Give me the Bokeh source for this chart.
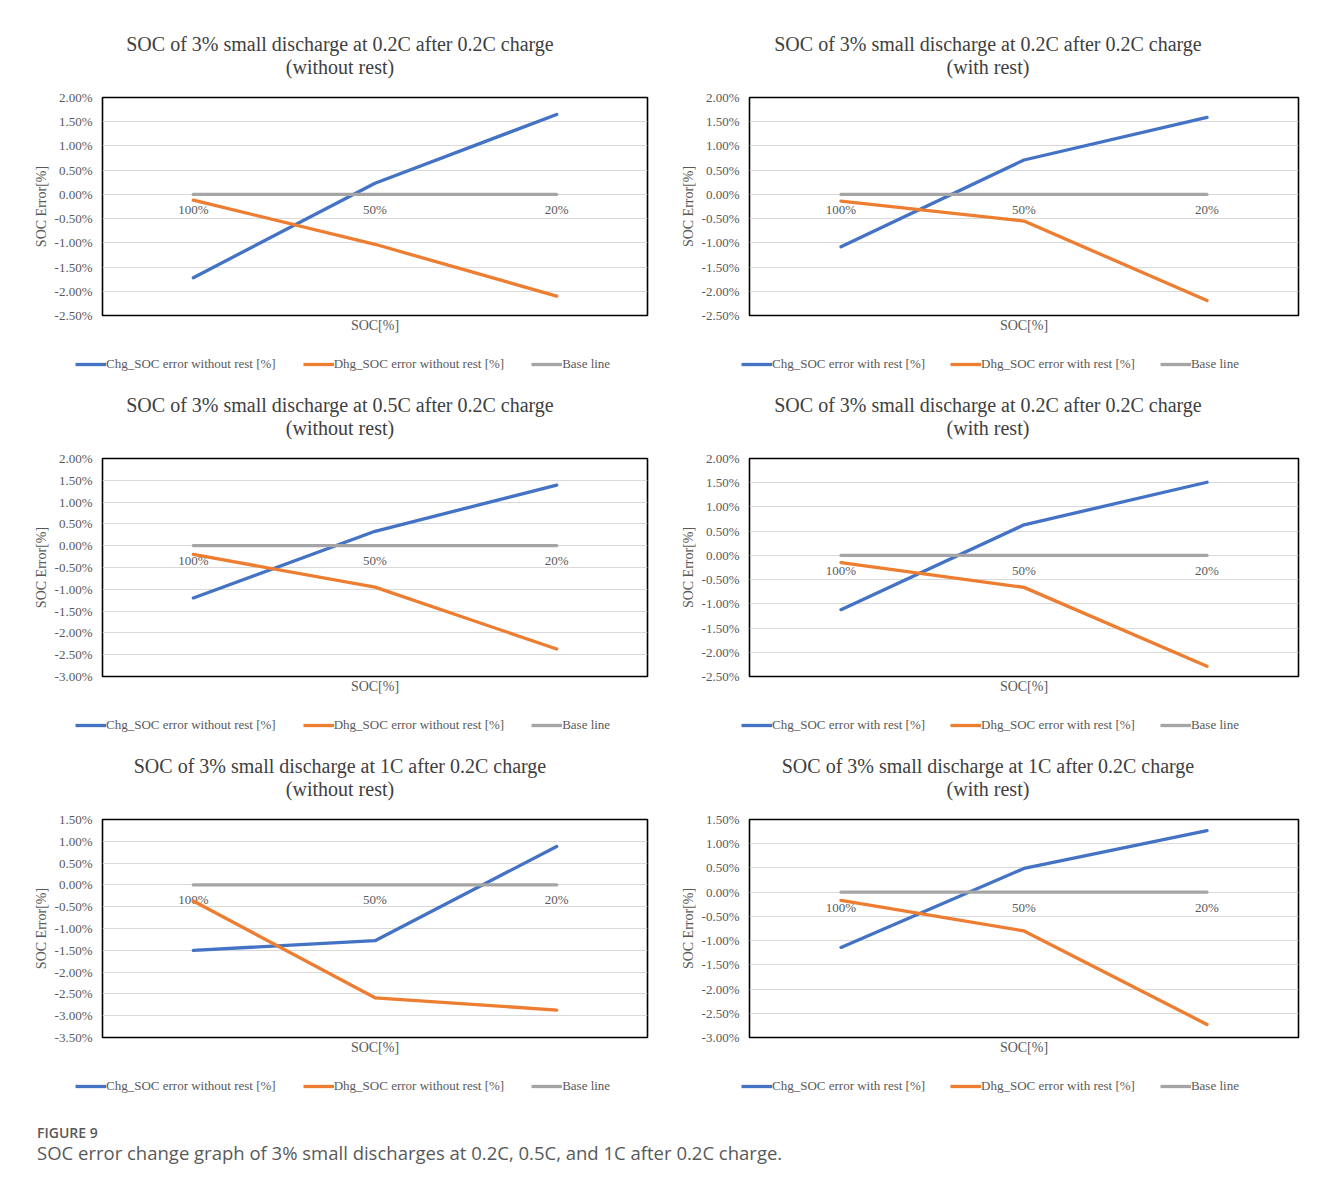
from bokeh.plotting import figure
from bokeh.models import (FactorRange, Range1d, FixedTicker, PrintfTickFormatter,
                          Legend, LegendItem, Title, Div)
from bokeh.layouts import column, row
from bokeh.embed import file_html
from bokeh.resources import INLINE
from bokeh.core.properties import value

# ---------------- data ----------------
soc_levels = ["100%", "50%", "20%"]

panel_titles = [
    "SOC of 3% small discharge at 0.2C after 0.2C charge",
    "SOC of 3% small discharge at 0.2C after 0.2C charge",
    "SOC of 3% small discharge at 0.5C after 0.2C charge",
    "SOC of 3% small discharge at 0.2C after 0.2C charge",
    "SOC of 3% small discharge at 1C after 0.2C charge",
    "SOC of 3% small discharge at 1C after 0.2C charge",
]
panel_subtitles = ["(without rest)", "(with rest)"] * 3

chg_p1 = [-1.72, 0.23, 1.65]
chg_p2 = [-1.08, 0.71, 1.59]
chg_p3 = [-1.20, 0.33, 1.39]
chg_p4 = [-1.12, 0.63, 1.51]
chg_p5 = [-1.50, -1.28, 0.88]
chg_p6 = [-1.14, 0.49, 1.27]

dhg_p1 = [-0.12, -1.03, -2.10]
dhg_p2 = [-0.14, -0.55, -2.19]
dhg_p3 = [-0.20, -0.95, -2.37]
dhg_p4 = [-0.15, -0.66, -2.29]
dhg_p5 = [-0.37, -2.59, -2.87]
dhg_p6 = [-0.17, -0.80, -2.73]

base_line = [0.0, 0.0, 0.0]

y_limits = [(-2.5, 2.0), (-2.5, 2.0), (-3.0, 2.0), (-2.5, 2.0), (-3.5, 1.5), (-3.0, 1.5)]

legend_without = ["Chg_SOC error without rest [%]", "Dhg_SOC error without rest [%]", "Base line"]
legend_with = ["Chg_SOC error with rest [%]", "Dhg_SOC error with rest [%]", "Base line"]

chg_all = [chg_p1, chg_p2, chg_p3, chg_p4, chg_p5, chg_p6]
dhg_all = [dhg_p1, dhg_p2, dhg_p3, dhg_p4, dhg_p5, dhg_p6]

caption_head = "FIGURE 9"
caption_text = "SOC error change graph of 3% small discharges at 0.2C, 0.5C, and 1C after 0.2C charge."

# ---------------- style ----------------
SERIF = "Liberation Serif"
BLUE = "#4472C4"
ORANGE = "#ED7D31"
GREY = "#A5A5A5"
TXT = "#595959"
TITLE_TXT = "#404040"
SERIES_COLORS = [BLUE, ORANGE, GREY]
LW = 3.3

PAGE_W = 1328
COL_W = 664
FRAME_H = 218
MB_TOP = 8
MB_BOTTOM = 30
FIG_H = MB_TOP + FRAME_H + MB_BOTTOM
LEG_H = 33
NAN = float("nan")


def make_title_div(i, first_row):
    left = (i % 2 == 0)
    pad_top = 33 if first_row else 16
    h = 89 if first_row else 72
    pad = "padding-left:16px;" if left else "padding-right:16px;"
    html = (f'<div style="width:{COL_W}px;box-sizing:border-box;{pad}padding-top:{pad_top}px;'
            f'text-align:center;font-family:\'Liberation Serif\',serif;font-size:20px;'
            f'line-height:23px;color:{TITLE_TXT};white-space:nowrap;">'
            f'<div>{panel_titles[i]}</div><div>{panel_subtitles[i]}</div></div>')
    return Div(text=html, width=COL_W, height=h, margin=0)


def make_panel(i):
    left = (i % 2 == 0)
    lo, hi = y_limits[i]
    mb_left = 102 if left else 85
    mb_right = 17 if left else 30

    p = figure(width=COL_W, height=FIG_H,
               x_range=FactorRange(*soc_levels, range_padding=0),
               y_range=Range1d(lo, hi),
               output_backend="svg", toolbar_location=None,
               min_border_left=mb_left, min_border_right=mb_right,
               min_border_top=MB_TOP, min_border_bottom=MB_BOTTOM, margin=0)
    p.background_fill_color = "white"
    p.border_fill_color = "white"
    p.outline_line_color = "black"
    p.outline_line_width = 1.6

    ticks = []
    t = lo
    while t <= hi + 1e-9:
        ticks.append(round(t, 2))
        t += 0.5
    p.yaxis.ticker = FixedTicker(ticks=ticks)
    p.yaxis.formatter = PrintfTickFormatter(format="%.2f%%")
    p.yaxis.axis_line_color = None
    p.yaxis.major_tick_line_color = None
    p.yaxis.major_tick_out = 0
    p.yaxis.major_tick_in = 0
    p.yaxis.minor_tick_line_color = None
    p.yaxis.major_label_text_font = SERIF
    p.yaxis.major_label_text_font_size = "13px"
    p.yaxis.major_label_text_color = TXT
    p.yaxis.major_label_standoff = 10
    p.yaxis.axis_label = "SOC Error[%]"
    p.yaxis.axis_label_text_font = SERIF
    p.yaxis.axis_label_text_font_style = "normal"
    p.yaxis.axis_label_text_font_size = "14px"
    p.yaxis.axis_label_text_color = TXT
    p.yaxis.axis_label_standoff = 3

    p.xaxis.visible = False
    p.xgrid.grid_line_color = None
    p.ygrid.grid_line_color = "#D9D9D9"
    p.ygrid.grid_line_width = 1

    p.text(x=soc_levels, y=[0.0] * len(soc_levels), text=soc_levels,
           y_offset=15, text_align="center", text_baseline="middle",
           text_font=value(SERIF), text_font_size="13px", text_color=TXT)

    p.line(soc_levels, chg_all[i], line_color=BLUE, line_width=LW, line_cap="round", line_join="round")
    p.line(soc_levels, dhg_all[i], line_color=ORANGE, line_width=LW, line_cap="round", line_join="round")
    p.line(soc_levels, base_line, line_color=GREY, line_width=LW, line_cap="round")

    p.add_layout(Title(text="SOC[%]", align="center", text_font=SERIF,
                       text_font_style="normal", text_font_size="14px",
                       text_color=TXT, standoff=0), "below")
    return p


def make_legend_row():
    lg = figure(width=PAGE_W, height=LEG_H, x_range=Range1d(0, 1), y_range=Range1d(0, 1),
                output_backend="svg", toolbar_location=None, min_border=0, margin=0)
    lg.outline_line_color = None
    lg.axis.visible = False
    lg.grid.visible = False
    for labels, x0, gap in ((legend_without, 75, 27), (legend_with, 741, 25)):
        items = []
        for lab, col in zip(labels, SERIES_COLORS):
            r = lg.line(x=[NAN], y=[NAN], line_color=col, line_width=LW)
            items.append(LegendItem(label=lab, renderers=[r]))
        legend = Legend(items=items, orientation="horizontal",
                        location=(x0, 6),
                        padding=0, margin=0, spacing=gap,
                        glyph_width=31, glyph_height=14, label_height=14,
                        label_standoff=0,
                        label_text_font=SERIF, label_text_font_size="13px",
                        label_text_color=TXT,
                        background_fill_alpha=0, border_line_color=None)
        lg.add_layout(legend, "center")
    return lg


blocks = []
for r in range(3):
    i0, i1 = 2 * r, 2 * r + 1
    blocks.append(row(make_title_div(i0, r == 0), make_title_div(i1, r == 0), spacing=0))
    blocks.append(row(make_panel(i0), make_panel(i1), spacing=0))
    blocks.append(make_legend_row())

caption = Div(
    text=(f'<div style="font-family:\'Open Sans\',sans-serif;color:#595959;padding-left:37px;padding-top:24px;">'
          f'<div style="font-size:14px;font-weight:600;line-height:18px;">{caption_head}</div>'
          f'<div style="font-size:18.5px;line-height:22px;">{caption_text}</div></div>'),
    width=PAGE_W, height=80, margin=0)
blocks.append(caption)

layout = column(*blocks, spacing=0)

open("out.html", "w").write(file_html(layout, INLINE))
